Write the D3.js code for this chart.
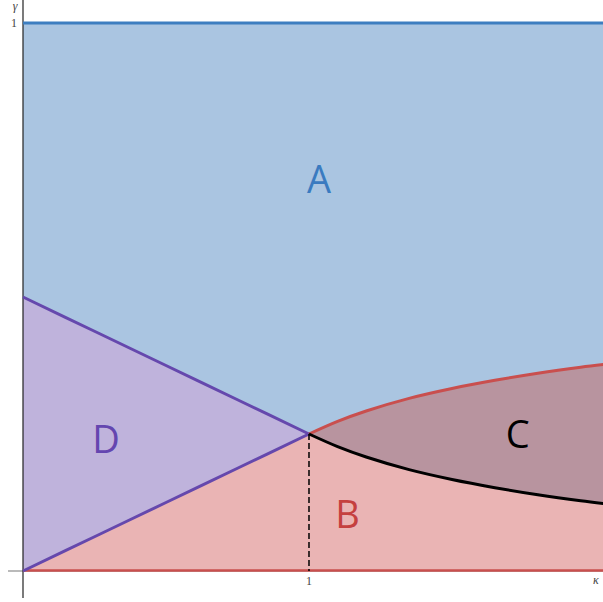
<!DOCTYPE html>
<html>
<head>
<meta charset="utf-8">
<script src="https://cdn.jsdelivr.net/npm/d3@7"></script>
<style>
  body { margin: 0; background: #fff; }
  svg { display: block; }
</style>
</head>
<body>
<svg id="chart" width="603" height="602"></svg>
<script>
// boundaries (kappa on x, gamma on y)
const kappaLeft = [0, 0.25, 0.5, 0.75, 1];
const dUpper = [0.5, 0.4375, 0.375, 0.3125, 0.25];
const dLower = [0, 0.0625, 0.125, 0.1875, 0.25];

const kappaRight = [1, 1.1, 1.2, 1.35, 1.5, 1.65, 1.8, 1.95, 2.03];
const redCurve = [0.25, 0.273, 0.292, 0.315, 0.333, 0.348, 0.361, 0.372, 0.377];
const blackCurve = [0.25, 0.227, 0.208, 0.185, 0.167, 0.152, 0.139, 0.128, 0.123];

const gammaTop = 1;
const xTicks = [1];
const yTicks = [1];
const regionLabels = [
  { name: "A", kappa: 1.035, gamma: 0.69, color: "#3a7bc0" },
  { name: "D", kappa: 0.29, gamma: 0.215, color: "#6446b0" },
  { name: "B", kappa: 1.135, gamma: 0.078, color: "#c5403f" },
  { name: "C", kappa: 1.73, gamma: 0.224, color: "#000000" }
];

const svg = d3.select("#chart");
const x = d3.scaleLinear().domain([0, 2.028]).range([23, 603]);
const y = d3.scaleLinear().domain([0, 1]).range([571, 23]);

const left = kappaLeft.map((k, i) => ({ k, lo: dLower[i], hi: dUpper[i] }));
const right = kappaRight.map((k, i) => ({ k, lo: blackCurve[i], hi: redCurve[i] }));

const curve = d3.curveCatmullRom;
const area = d3.area().x(d => x(d.k)).curve(curve);
const line = d3.line().x(d => x(d.k)).curve(curve);

// region A : from the upper boundary up to gamma = 1
const upperAll = left.concat(right.slice(1));
svg.append("path")
  .attr("d", area.y0(d => y(d.hi)).y1(y(gammaTop))(upperAll))
  .attr("fill", "#aac5e1");

// region B : from 0 up to the lower boundary
svg.append("path")
  .attr("d", area.y0(y(0)).y1(d => y(d.lo))(left.concat(right.slice(1))))
  .attr("fill", "#eab4b4");

// region D
svg.append("path")
  .attr("d", area.y0(d => y(d.lo)).y1(d => y(d.hi))(left))
  .attr("fill", "#bfb3dc");

// region C
svg.append("path")
  .attr("d", area.y0(d => y(d.lo)).y1(d => y(d.hi))(right))
  .attr("fill", "#b8949f");

// axes
svg.append("line")
  .attr("x1", 8).attr("x2", 603)
  .attr("y1", y(0)).attr("y2", y(0))
  .attr("stroke", "#777").attr("stroke-width", 1.2);
svg.append("line")
  .attr("x1", x(0)).attr("x2", x(0))
  .attr("y1", 0).attr("y2", 598)
  .attr("stroke", "#222").attr("stroke-width", 1.2);

// boundary lines
svg.append("line")
  .attr("x1", x(0)).attr("x2", 603)
  .attr("y1", y(gammaTop)).attr("y2", y(gammaTop))
  .attr("stroke", "#3d7ec0").attr("stroke-width", 3);
svg.append("line")
  .attr("x1", x(0)).attr("x2", 603)
  .attr("y1", y(0) - 0.5).attr("y2", y(0) - 0.5)
  .attr("stroke", "#c94f4e").attr("stroke-width", 2.5);

svg.append("path")
  .attr("d", line.y(d => y(d.hi))(left))
  .attr("fill", "none").attr("stroke", "#6548ad").attr("stroke-width", 3);
svg.append("path")
  .attr("d", line.y(d => y(d.lo))(left))
  .attr("fill", "none").attr("stroke", "#6548ad").attr("stroke-width", 3);
svg.append("path")
  .attr("d", line.y(d => y(d.hi))(right))
  .attr("fill", "none").attr("stroke", "#c94f4e").attr("stroke-width", 3);
svg.append("path")
  .attr("d", line.y(d => y(d.lo))(right))
  .attr("fill", "none").attr("stroke", "#000").attr("stroke-width", 3);

// dashed drop line at the meeting point
svg.append("line")
  .attr("x1", x(kappaRight[0])).attr("x2", x(kappaRight[0]))
  .attr("y1", y(redCurve[0])).attr("y2", y(0))
  .attr("stroke", "#000").attr("stroke-width", 1.5)
  .attr("stroke-dasharray", "6,3");

// tick labels
svg.selectAll(".xt").data(xTicks).join("text")
  .attr("x", d => x(d)).attr("y", 585)
  .attr("text-anchor", "middle")
  .attr("font-family", "Liberation Serif, serif").attr("font-size", 12)
  .attr("fill", "#444").text(d => d);
svg.selectAll(".yt").data(yTicks).join("text")
  .attr("x", 17).attr("y", y(1) + 4)
  .attr("text-anchor", "end")
  .attr("font-family", "Liberation Serif, serif").attr("font-size", 12)
  .attr("fill", "#444").text(d => d);

svg.append("text")
  .attr("x", 596).attr("y", 584)
  .attr("text-anchor", "middle")
  .attr("font-family", "Liberation Serif, serif").attr("font-style", "italic")
  .attr("font-size", 12).attr("fill", "#444").text("κ");
svg.append("text")
  .attr("x", 15).attr("y", 10)
  .attr("text-anchor", "middle")
  .attr("font-family", "Liberation Serif, serif").attr("font-style", "italic")
  .attr("font-size", 12).attr("fill", "#444").text("γ");

// region letters
svg.selectAll(".lab").data(regionLabels).join("text")
  .attr("x", d => x(d.kappa)).attr("y", d => y(d.gamma))
  .attr("text-anchor", "middle")
  .attr("font-family", "Open Sans, sans-serif").attr("font-size", 38)
  .attr("fill", d => d.color).text(d => d.name);
</script>
</body>
</html>
